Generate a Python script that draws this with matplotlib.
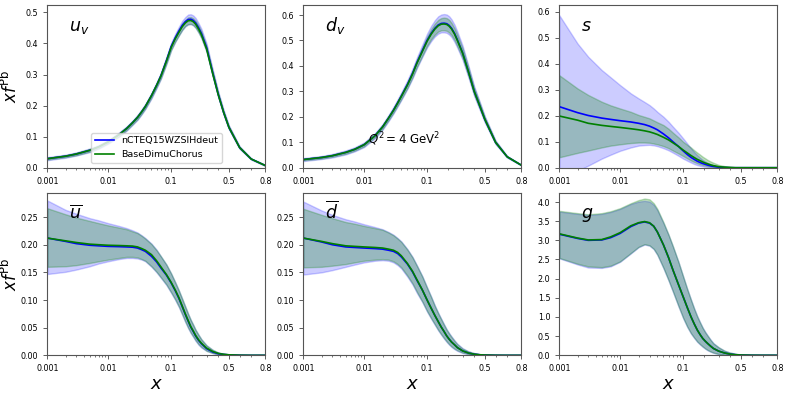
import matplotlib
matplotlib.use('Agg')
import matplotlib.pyplot as plt
from matplotlib.ticker import NullFormatter

# common x grid of the read-off points
x_grid = [0.001, 0.002, 0.003, 0.005, 0.007, 0.01, 0.015, 0.02, 0.025, 0.03,
          0.035, 0.04, 0.05, 0.06, 0.07, 0.085, 0.1, 0.115, 0.13, 0.145,
          0.16, 0.175, 0.19, 0.205, 0.22, 0.24, 0.26, 0.3, 0.35, 0.4,
          0.45, 0.5, 0.6, 0.7, 0.8]

# u_v
uv_b = [0.029, 0.037, 0.044, 0.056, 0.067, 0.083, 0.106, 0.126, 0.145, 0.162,
        0.180, 0.197, 0.232, 0.265, 0.296, 0.345, 0.390, 0.418, 0.440, 0.458,
        0.470, 0.477, 0.478, 0.474, 0.466, 0.450, 0.432, 0.386, 0.306, 0.236,
        0.178, 0.130, 0.065, 0.028, 0.007]
uv_b_err = [0.005, 0.005, 0.005, 0.006, 0.006, 0.006, 0.007, 0.007, 0.007, 0.008,
            0.008, 0.008, 0.009, 0.009, 0.010, 0.011, 0.012, 0.013, 0.014, 0.015,
            0.015, 0.016, 0.016, 0.016, 0.016, 0.015, 0.015, 0.013, 0.011, 0.009,
            0.007, 0.006, 0.004, 0.002, 0.001]
uv_g = [0.029, 0.037, 0.044, 0.056, 0.067, 0.083, 0.106, 0.126, 0.145, 0.162,
        0.180, 0.197, 0.232, 0.265, 0.295, 0.343, 0.387, 0.415, 0.436, 0.454,
        0.466, 0.473, 0.474, 0.470, 0.462, 0.446, 0.428, 0.382, 0.304, 0.235,
        0.178, 0.130, 0.065, 0.028, 0.007]
uv_g_err = [0.003, 0.003, 0.004, 0.004, 0.004, 0.004, 0.005, 0.005, 0.005, 0.006,
            0.006, 0.006, 0.006, 0.006, 0.007, 0.008, 0.008, 0.009, 0.010, 0.010,
            0.010, 0.011, 0.011, 0.011, 0.011, 0.011, 0.010, 0.009, 0.008, 0.006,
            0.005, 0.004, 0.003, 0.001, 0.001]

# d_v
dv_b = [0.032, 0.040, 0.047, 0.060, 0.072, 0.090, 0.125, 0.160, 0.195, 0.226,
        0.255, 0.281, 0.327, 0.370, 0.412, 0.460, 0.500, 0.528, 0.548, 0.561,
        0.567, 0.568, 0.566, 0.559, 0.548, 0.528, 0.503, 0.452, 0.376, 0.301,
        0.245, 0.190, 0.100, 0.043, 0.010]
dv_b_err = [0.006, 0.006, 0.007, 0.008, 0.008, 0.009, 0.010, 0.011, 0.012, 0.013,
            0.014, 0.015, 0.017, 0.019, 0.021, 0.024, 0.027, 0.030, 0.032, 0.034,
            0.035, 0.036, 0.036, 0.036, 0.035, 0.034, 0.032, 0.028, 0.023, 0.019,
            0.016, 0.012, 0.007, 0.003, 0.001]
dv_g = [0.032, 0.040, 0.047, 0.060, 0.072, 0.090, 0.125, 0.160, 0.195, 0.225,
        0.254, 0.280, 0.325, 0.368, 0.410, 0.457, 0.497, 0.525, 0.545, 0.558,
        0.564, 0.565, 0.563, 0.556, 0.545, 0.525, 0.500, 0.450, 0.375, 0.300,
        0.245, 0.190, 0.100, 0.043, 0.010]
dv_g_err = [0.003, 0.004, 0.004, 0.005, 0.005, 0.006, 0.006, 0.007, 0.008, 0.008,
            0.009, 0.010, 0.011, 0.012, 0.014, 0.016, 0.018, 0.020, 0.022, 0.023,
            0.024, 0.025, 0.025, 0.025, 0.024, 0.023, 0.022, 0.019, 0.016, 0.013,
            0.011, 0.008, 0.005, 0.002, 0.001]

# s
s_b = [0.235, 0.212, 0.201, 0.191, 0.186, 0.181, 0.176, 0.171, 0.166, 0.160,
       0.153, 0.146, 0.130, 0.115, 0.100, 0.082, 0.065, 0.051, 0.040, 0.032,
       0.025, 0.020, 0.016, 0.013, 0.010, 0.007, 0.005, 0.002, 0.001, 0.0,
       0.0, 0.0, 0.0, 0.0, 0.0]
s_b_lo = [-0.06, -0.012, 0.008, 0.035, 0.05, 0.065, 0.078, 0.085, 0.087, 0.088,
          0.086, 0.083, 0.075, 0.067, 0.058, 0.046, 0.035, 0.027, 0.02, 0.014,
          0.01, 0.007, 0.005, 0.003, 0.002, 0.001, 0.0, 0.0, 0.0, 0.0,
          0.0, 0.0, 0.0, 0.0, 0.0]
s_b_hi = [0.587, 0.478, 0.427, 0.376, 0.348, 0.318, 0.286, 0.267, 0.253, 0.241,
          0.228, 0.215, 0.196, 0.177, 0.158, 0.135, 0.113, 0.093, 0.075, 0.06,
          0.048, 0.038, 0.03, 0.024, 0.018, 0.013, 0.009, 0.004, 0.002, 0.001,
          0.0005, 0.0, 0.0, 0.0, 0.0]
s_g = [0.199, 0.183, 0.171, 0.163, 0.159, 0.155, 0.150, 0.146, 0.142, 0.138,
       0.133, 0.128, 0.117, 0.107, 0.096, 0.082, 0.068, 0.057, 0.047, 0.039,
       0.032, 0.027, 0.022, 0.018, 0.015, 0.011, 0.008, 0.004, 0.002, 0.001,
       0.0, 0.0, 0.0, 0.0, 0.0]
s_g_lo = [0.04, 0.057, 0.066, 0.078, 0.085, 0.09, 0.095, 0.097, 0.097, 0.096,
          0.093, 0.09, 0.083, 0.075, 0.066, 0.055, 0.045, 0.036, 0.028, 0.022,
          0.017, 0.013, 0.01, 0.008, 0.006, 0.004, 0.003, 0.001, 0.0, 0.0,
          0.0, 0.0, 0.0, 0.0, 0.0]
s_g_hi = [0.356, 0.305, 0.28, 0.254, 0.24, 0.228, 0.215, 0.203, 0.196, 0.19,
          0.182, 0.175, 0.164, 0.15, 0.135, 0.117, 0.1, 0.088, 0.078, 0.067,
          0.058, 0.05, 0.042, 0.036, 0.03, 0.024, 0.019, 0.011, 0.006, 0.003,
          0.0015, 0.0007, 0.0, 0.0, 0.0]

# u-bar
ub_b = [0.212, 0.206, 0.202, 0.199, 0.198, 0.197, 0.1965, 0.196, 0.1955, 0.194,
        0.191, 0.188, 0.179, 0.169, 0.158, 0.145, 0.131, 0.117, 0.103, 0.088,
        0.074, 0.062, 0.051, 0.043, 0.035, 0.027, 0.021, 0.012, 0.006, 0.003,
        0.0015, 0.0008, 0.0002, 0.0, 0.0]
ub_b_lo = [0.147, 0.151, 0.155, 0.161, 0.166, 0.17, 0.174, 0.176, 0.176, 0.175,
           0.173, 0.17, 0.16, 0.15, 0.14, 0.127, 0.113, 0.1, 0.087, 0.073,
           0.06, 0.049, 0.04, 0.033, 0.026, 0.019, 0.014, 0.008, 0.004, 0.0015,
           0.0007, 0.0003, 0.0, 0.0, 0.0]
ub_b_hi = [0.28, 0.263, 0.256, 0.248, 0.244, 0.239, 0.234, 0.23, 0.226, 0.222,
           0.217, 0.212, 0.202, 0.191, 0.179, 0.164, 0.148, 0.132, 0.117, 0.102,
           0.088, 0.075, 0.064, 0.055, 0.046, 0.037, 0.029, 0.018, 0.010, 0.005,
           0.003, 0.0015, 0.0005, 0.0001, 0.0]
ub_g = [0.212, 0.207, 0.204, 0.201, 0.2, 0.199, 0.1985, 0.198, 0.1975, 0.196,
        0.193, 0.19, 0.182, 0.171, 0.16, 0.146, 0.132, 0.118, 0.104, 0.089,
        0.075, 0.063, 0.052, 0.044, 0.036, 0.028, 0.022, 0.013, 0.007, 0.0035,
        0.0018, 0.0009, 0.0002, 0.0, 0.0]
ub_g_lo = [0.16, 0.161, 0.163, 0.167, 0.17, 0.173, 0.176, 0.178, 0.178, 0.177,
           0.174, 0.171, 0.161, 0.151, 0.141, 0.128, 0.114, 0.101, 0.088, 0.074,
           0.061, 0.05, 0.041, 0.034, 0.027, 0.02, 0.015, 0.008, 0.004, 0.0015,
           0.0007, 0.0003, 0.0, 0.0, 0.0]
ub_g_hi = [0.266, 0.255, 0.249, 0.243, 0.239, 0.235, 0.231, 0.228, 0.224, 0.221,
           0.216, 0.211, 0.201, 0.19, 0.179, 0.164, 0.148, 0.132, 0.117, 0.102,
           0.088, 0.075, 0.064, 0.055, 0.046, 0.037, 0.029, 0.018, 0.010, 0.005,
           0.003, 0.0015, 0.0005, 0.0001, 0.0]

# d-bar
db_b = [0.212, 0.205, 0.200, 0.196, 0.195, 0.194, 0.193, 0.192, 0.190, 0.188,
        0.184, 0.178, 0.165, 0.151, 0.136, 0.118, 0.1, 0.085, 0.072, 0.061,
        0.051, 0.043, 0.035, 0.029, 0.024, 0.019, 0.014, 0.008, 0.004, 0.002,
        0.001, 0.0005, 0.0001, 0.0, 0.0]
db_b_lo = [0.146, 0.15, 0.154, 0.16, 0.164, 0.168, 0.171, 0.172, 0.171, 0.168,
           0.163, 0.157, 0.142, 0.128, 0.113, 0.096, 0.079, 0.066, 0.055, 0.045,
           0.037, 0.03, 0.024, 0.019, 0.015, 0.011, 0.008, 0.004, 0.002, 0.001,
           0.0004, 0.0002, 0.0, 0.0, 0.0]
db_b_hi = [0.278, 0.262, 0.254, 0.246, 0.242, 0.237, 0.232, 0.228, 0.223, 0.218,
           0.212, 0.206, 0.192, 0.178, 0.163, 0.143, 0.123, 0.106, 0.09, 0.077,
           0.066, 0.056, 0.047, 0.04, 0.034, 0.027, 0.021, 0.013, 0.007, 0.004,
           0.002, 0.0012, 0.0005, 0.0001, 0.0]
db_g = [0.212, 0.206, 0.202, 0.198, 0.197, 0.196, 0.195, 0.194, 0.192, 0.19,
        0.186, 0.18, 0.166, 0.152, 0.137, 0.118, 0.1, 0.085, 0.072, 0.061,
        0.051, 0.043, 0.035, 0.029, 0.024, 0.019, 0.014, 0.008, 0.004, 0.002,
        0.001, 0.0005, 0.0001, 0.0, 0.0]
db_g_lo = [0.159, 0.16, 0.162, 0.165, 0.168, 0.171, 0.173, 0.174, 0.173, 0.17,
           0.165, 0.159, 0.144, 0.13, 0.115, 0.097, 0.08, 0.067, 0.056, 0.046,
           0.038, 0.031, 0.025, 0.02, 0.016, 0.012, 0.009, 0.005, 0.002, 0.001,
           0.0004, 0.0002, 0.0, 0.0, 0.0]
db_g_hi = [0.265, 0.254, 0.248, 0.241, 0.238, 0.234, 0.23, 0.227, 0.222, 0.217,
           0.211, 0.205, 0.191, 0.177, 0.162, 0.142, 0.122, 0.105, 0.089, 0.076,
           0.065, 0.055, 0.046, 0.039, 0.033, 0.026, 0.02, 0.012, 0.007, 0.004,
           0.002, 0.0012, 0.0005, 0.0001, 0.0]

# gluon
g_b = [3.16, 3.05, 3.0, 3.01, 3.07, 3.18, 3.36, 3.45, 3.48, 3.45,
       3.37, 3.22, 2.88, 2.55, 2.23, 1.85, 1.53, 1.25, 1.01, 0.82,
       0.66, 0.54, 0.44, 0.37, 0.31, 0.24, 0.18, 0.11, 0.06, 0.03,
       0.015, 0.008, 0.002, 0.0005, 0.0]
g_b_lo = [2.53, 2.37, 2.29, 2.28, 2.32, 2.44, 2.66, 2.82, 2.89, 2.86,
          2.77, 2.62, 2.27, 1.95, 1.66, 1.28, 0.97, 0.74, 0.57, 0.45,
          0.35, 0.28, 0.22, 0.17, 0.13, 0.095, 0.065, 0.03, 0.013, 0.006,
          0.003, 0.001, 0.0, 0.0, 0.0]
g_b_hi = [3.75, 3.69, 3.66, 3.69, 3.74, 3.82, 3.95, 4.01, 4.03, 4.01,
          3.93, 3.79, 3.45, 3.14, 2.84, 2.44, 2.06, 1.73, 1.46, 1.22,
          1.02, 0.86, 0.72, 0.61, 0.52, 0.41, 0.32, 0.21, 0.12, 0.07,
          0.04, 0.02, 0.006, 0.002, 0.0]
g_g = [3.17, 3.06, 3.01, 3.02, 3.09, 3.2, 3.38, 3.46, 3.49, 3.46,
       3.37, 3.22, 2.88, 2.55, 2.23, 1.85, 1.53, 1.25, 1.01, 0.82,
       0.66, 0.54, 0.44, 0.37, 0.31, 0.24, 0.18, 0.11, 0.06, 0.03,
       0.015, 0.008, 0.002, 0.0005, 0.0]
g_g_lo = [2.54, 2.39, 2.32, 2.30, 2.34, 2.45, 2.67, 2.83, 2.9, 2.87,
          2.78, 2.63, 2.28, 1.96, 1.67, 1.29, 0.98, 0.75, 0.58, 0.46,
          0.36, 0.29, 0.23, 0.18, 0.14, 0.1, 0.07, 0.035, 0.015, 0.007,
          0.003, 0.001, 0.0, 0.0, 0.0]
g_g_hi = [3.77, 3.71, 3.68, 3.71, 3.76, 3.84, 3.97, 4.05, 4.09, 4.07,
          3.97, 3.82, 3.47, 3.15, 2.85, 2.44, 2.06, 1.73, 1.45, 1.21,
          1.01, 0.85, 0.71, 0.6, 0.51, 0.4, 0.31, 0.21, 0.12, 0.07,
          0.04, 0.02, 0.006, 0.002, 0.0]

x_ticks = [0.001, 0.01, 0.1, 0.5, 0.8]
x_tick_labels = ['0.001', '0.01', '0.1', '0.5', '0.8']
names = ['nCTEQ15WZSIHdeut', 'BaseDimuChorus']


def band(vals, err, sign):
    return [v + sign * e for v, e in zip(vals, err)]


panels = [
    (r'$u_v$', uv_b, band(uv_b, uv_b_err, -1), band(uv_b, uv_b_err, 1),
     uv_g, band(uv_g, uv_g_err, -1), band(uv_g, uv_g_err, 1), 0.5225),
    (r'$d_v$', dv_b, band(dv_b, dv_b_err, -1), band(dv_b, dv_b_err, 1),
     dv_g, band(dv_g, dv_g_err, -1), band(dv_g, dv_g_err, 1), 0.638),
    (r'$s$', s_b, s_b_lo, s_b_hi, s_g, s_g_lo, s_g_hi, 0.625),
    (r'$\overline{u}$', ub_b, ub_b_lo, ub_b_hi, ub_g, ub_g_lo, ub_g_hi, 0.2935),
    (r'$\overline{d}$', db_b, db_b_lo, db_b_hi, db_g, db_g_lo, db_g_hi, 0.2935),
    (r'$g$', g_b, g_b_lo, g_b_hi, g_g, g_g_lo, g_g_hi, 4.235),
]

fig = plt.figure(figsize=(7.89, 3.93), dpi=100)
lefts = [0.0600, 0.3844, 0.7089]
bottoms = [0.5733, 0.0959]
w, h = 0.2763, 0.4130

for i, (lab, cb, lob, hib, cg, log_, hig, ytop) in enumerate(panels):
    row, col = divmod(i, 3)
    ax = fig.add_axes([lefts[col], bottoms[row], w, h])
    ax.fill_between(x_grid, lob, hib, color='blue', alpha=0.2)
    ax.fill_between(x_grid, log_, hig, color='green', alpha=0.25)
    ax.plot(x_grid, cb, color='blue', lw=1.2, label=names[0])
    ax.plot(x_grid, cg, color='green', lw=1.2, label=names[1])
    ax.set_xscale('logit')
    ax.set_xlim(0.001, 0.8)
    ax.set_ylim(0, ytop)
    ax.set_xticks(x_ticks)
    ax.set_xticklabels(x_tick_labels)
    ax.xaxis.set_minor_formatter(NullFormatter())
    ax.tick_params(labelsize=5.8, length=3, width=0.6, color='#444444')
    ax.tick_params(which='minor', length=1.6, width=0.5, color='#444444')
    for sp in ax.spines.values():
        sp.set_color('#555555')
        sp.set_linewidth(0.8)
    ax.text(0.1, 0.845, lab, transform=ax.transAxes, fontsize=12.5)
    if col == 0:
        ax.set_ylabel(r'$xf^{\rm Pb}$', fontsize=12)
        ax.yaxis.set_label_coords(-0.122, 0.5)
    if row == 1:
        ax.set_xlabel(r'$x$', fontsize=13)
        ax.xaxis.set_label_coords(0.5, -0.12)
    if i == 0:
        ax.legend(loc='lower center', fontsize=6.8)
    if i == 1:
        ax.text(0.297, 0.15, r'$Q^2 = 4\ \mathrm{GeV}^2$', transform=ax.transAxes,
                fontsize=8.5)

fig.savefig('out.png', dpi=100)
